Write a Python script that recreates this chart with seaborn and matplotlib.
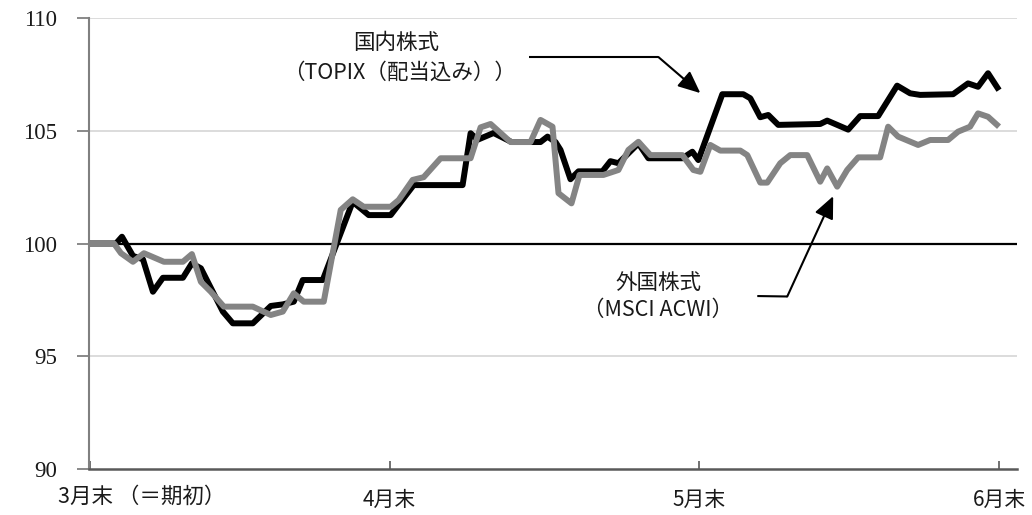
import matplotlib
matplotlib.use("Agg")
import matplotlib.pyplot as plt
import seaborn as sns
import pandas as pd

# ---- data (days after end of March, index value) ----
topix_days = [0, 2.6, 3.2, 4.3, 5.3, 6.3, 7.3, 9.3, 10.2, 11.1, 13.3, 14.3, 16.3, 18.1, 19.3,
              20.4, 21.3, 23.3, 26.3, 27.9, 30.1, 32.4, 37.3, 38.1, 38.8, 40.4, 42.2, 45.1,
              45.8, 46.6, 47.1, 48.1, 48.9, 51.3, 52.1, 52.9, 54.9, 55.9, 59.3, 60.3, 60.9,
              63.3, 65.4, 66.1, 67.1, 67.9, 68.9, 73.1, 73.8, 75.9, 77.1, 78.9, 80.8, 82.1,
              83.1, 86.4, 87.9, 88.9, 89.9, 91.0]
topix_vals = [100.0, 100.0, 100.3, 99.45, 99.3, 97.86, 98.48, 98.48, 99.12, 98.9, 96.98, 96.46,
              96.46, 97.23, 97.3, 97.42, 98.38, 98.38, 101.85, 101.26, 101.26, 102.59, 102.59,
              104.89, 104.6, 104.9, 104.5, 104.5, 104.74, 104.5, 104.15, 102.85, 103.2, 103.2,
              103.65, 103.56, 104.44, 103.78, 103.78, 104.07, 103.7, 106.62, 106.62, 106.44,
              105.6, 105.7, 105.26, 105.3, 105.45, 105.05, 105.65, 105.65, 107.0, 106.66,
              106.59, 106.62, 107.1, 106.95, 107.55, 106.8]

acwi_days = [0, 2.4, 3.1, 4.3, 5.4, 7.4, 9.3, 10.2, 11.1, 12.1, 13.4, 16.3, 18.1, 19.3, 20.4,
             21.4, 23.4, 25.1, 26.3, 27.4, 30.1, 30.9, 32.3, 33.4, 35.1, 38.1, 39.1, 40.1,
             42.1, 44.1, 45.1, 46.3, 46.9, 48.2, 49.0, 51.4, 52.9, 53.9, 54.9, 56.1, 59.3,
             60.4, 61.1, 62.1, 63.1, 65.1, 65.8, 67.1, 67.8, 69.1, 70.1, 71.8, 73.1, 73.8,
             74.8, 75.8, 76.9, 79.1, 79.9, 80.9, 82.9, 84.1, 85.9, 86.9, 88.1, 88.9, 89.9, 91.0]
acwi_vals = [100.0, 100.0, 99.57, 99.19, 99.57, 99.19, 99.19, 99.53, 98.3, 97.86, 97.2, 97.2,
             96.83, 96.98, 97.79, 97.42, 97.42, 101.49, 101.96, 101.63, 101.63, 101.93, 102.82,
             102.94, 103.78, 103.78, 105.15, 105.3, 104.5, 104.5, 105.48, 105.18, 102.23,
             101.78, 103.04, 103.04, 103.26, 104.15, 104.51, 103.92, 103.92, 103.26, 103.18,
             104.37, 104.12, 104.12, 103.92, 102.7, 102.7, 103.56, 103.92, 103.92, 102.74,
             103.33, 102.52, 103.26, 103.82, 103.82, 105.18, 104.74, 104.37, 104.59, 104.59,
             104.96, 105.18, 105.77, 105.62, 105.18]

xtick_days = [0, 30, 61, 91]
xtick_labels = ["3月末", "4月末", "5月末", "6月末"]
first_label_suffix = " （＝期初）"
ytick_vals = [90, 95, 100, 105, 110]

label_topix = ["国内株式", "（TOPIX（配当込み））"]
label_acwi = ["外国株式", "（MSCI ACWI）"]

# ---- style ----
sns.set_theme(style="white")
plt.rcParams["font.family"] = ["Noto Sans CJK JP", "DejaVu Sans"]
TXT = "#1a1a1a"

fig = plt.figure(figsize=(10.32, 5.15), dpi=100)
ax = fig.add_axes([89 / 1032, 46 / 515, 928 / 1032, 451 / 515])

df_t = pd.DataFrame({"day": topix_days, "val": topix_vals})
df_a = pd.DataFrame({"day": acwi_days, "val": acwi_vals})

# grid / reference lines
for v in ytick_vals:
    if v == 100:
        ax.axhline(v, color="black", lw=1.6, zorder=1)
    elif v != 90:
        ax.axhline(v, color="#d9d9d9", lw=1.3, zorder=0)

sns.lineplot(data=df_t, x="day", y="val", color="black", lw=4.3, estimator=None,
             sort=False, ax=ax, zorder=3, solid_joinstyle="round", solid_capstyle="butt")
sns.lineplot(data=df_a, x="day", y="val", color="#848484", lw=4.3, estimator=None,
             sort=False, ax=ax, zorder=4, solid_joinstyle="round", solid_capstyle="butt")

ax.set_xlim(-0.1, 92.8)
ax.set_ylim(90, 110)
ax.set_xlabel("")
ax.set_ylabel("")

# spines
for s in ["top", "right"]:
    ax.spines[s].set_visible(False)
ax.spines["left"].set_color("#808080")
ax.spines["left"].set_linewidth(1.5)
ax.spines["bottom"].set_color("#595959")
ax.spines["bottom"].set_linewidth(1.8)

ax.set_yticks(ytick_vals)
ax.set_yticklabels([str(v) for v in ytick_vals], family="Liberation Serif", fontsize=16.5,
                   color=TXT)
ax.tick_params(axis="y", direction="out", length=9, width=1.3, color="#808080", pad=14,
               left=True)

labels = list(xtick_labels)
labels[0] = ""
ax.set_xticks(xtick_days)
ax.set_xticklabels(labels, fontsize=15, color=TXT)
ax.tick_params(axis="x", direction="in", length=6, width=1.2, color="#595959", pad=14,
               bottom=True)
ax.text(-3.2, -0.062, xtick_labels[0] + first_label_suffix, transform=ax.get_xaxis_transform(),
        ha="left", va="center", fontsize=15.5, color=TXT)

# annotations
ax.text(30.6, 108.89, label_topix[0], ha="center", va="center", fontsize=15.5, color=TXT)
ax.text(31.0, 107.55, label_topix[1], ha="center", va="center", fontsize=15.5, color=TXT)
ax.text(56.9, 98.25, label_acwi[0], ha="center", va="center", fontsize=15.5, color=TXT)
ax.text(56.9, 97.05, label_acwi[1], ha="center", va="center", fontsize=15.5, color=TXT)

arrow_kw = dict(arrowstyle="-|>,head_length=0.9,head_width=0.4", color="black", lw=1.5,
                mutation_scale=15, shrinkA=0, shrinkB=0)
ax.plot([43.9, 56.9], [108.27, 108.27], color="black", lw=1.5, solid_capstyle="butt")
ax.annotate("", xy=(61.1, 106.67), xytext=(56.9, 108.27), arrowprops=arrow_kw)
ax.plot([66.8, 69.8], [97.67, 97.65], color="black", lw=1.5, solid_capstyle="butt")
ax.annotate("", xy=(74.4, 102.1), xytext=(69.8, 97.65), arrowprops=arrow_kw)

fig.savefig("out.png", dpi=100)
